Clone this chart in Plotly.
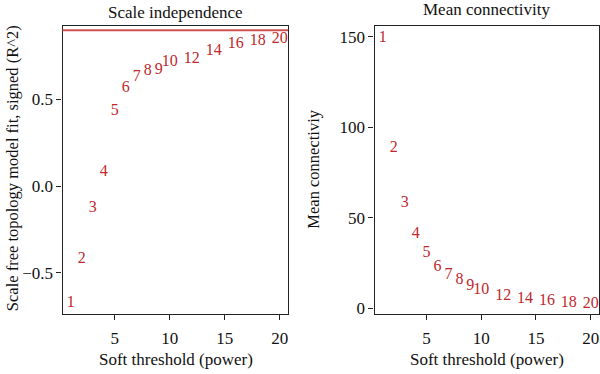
import plotly.graph_objects as go

powers = [1, 2, 3, 4, 5, 6, 7, 8, 9, 10, 12, 14, 16, 18, 20]
sft_signed_r2 = [-0.673, -0.42, -0.129, 0.083, 0.433, 0.567, 0.63, 0.667, 0.67,
                 0.717, 0.736, 0.78, 0.818, 0.839, 0.849]
mean_k = [149.5, 88.3, 58.0, 40.7, 30.3, 22.8, 18.4, 15.5, 11.9, 9.7, 6.6, 5.1,
          3.7, 2.9, 2.4]
r2_cutoff = 0.90
x_ticks = [5, 10, 15, 20]
y1_ticks = [-0.5, 0.0, 0.5]
y1_ticklabels = ["\u22120.5", "0.0", "0.5"]
y2_ticks = [0, 50, 100, 150]

FONT = "Liberation Serif"
RED = "#c0272d"
W, H = 600, 374

def px(x):
    return x / W

def py(y):
    return 1 - y / H

fig = go.Figure()
labels = [str(p) for p in powers]
fig.add_trace(go.Scatter(x=powers, y=sft_signed_r2, mode="text", text=labels,
                         textfont=dict(family=FONT, size=16, color=RED),
                         xaxis="x", yaxis="y", showlegend=False, hoverinfo="skip"))
fig.add_trace(go.Scatter(x=powers, y=mean_k, mode="text", text=labels,
                         textfont=dict(family=FONT, size=16, color=RED),
                         xaxis="x2", yaxis="y2", showlegend=False, hoverinfo="skip"))

ydom = [py(317), py(26.5)]
axis_common = dict(showline=True, linecolor="#222", linewidth=1.2, mirror=True,
                   ticks="outside", ticklen=5, tickcolor="#222", showgrid=False,
                   zeroline=False, tickfont=dict(family=FONT, size=17, color="#111"))

fig.update_layout(
    width=W, height=H, margin=dict(l=0, r=0, t=0, b=0),
    paper_bgcolor="white", plot_bgcolor="white",
    xaxis=dict(domain=[px(62.5), px(288)], range=[0.24, 20.76], tickvals=x_ticks,
               anchor="y", ticklabelstandoff=4, **axis_common),
    yaxis=dict(domain=ydom, range=[-0.736, 0.923], tickvals=y1_ticks,
               ticktext=y1_ticklabels, anchor="x", **axis_common),
    xaxis2=dict(domain=[px(374.5), px(599)], range=[0.24, 20.76], tickvals=x_ticks,
                anchor="y2", ticklabelstandoff=4, **axis_common),
    yaxis2=dict(domain=ydom, range=[-3.1, 155.9], tickvals=y2_ticks, anchor="x2",
                **axis_common),
)

fig.add_shape(type="line", xref="x domain", yref="y", x0=0, x1=1, y0=r2_cutoff,
              y1=r2_cutoff, line=dict(color="#d05050", width=2))

def ann(text, x, y, angle=0, size=17):
    fig.add_annotation(text=text, x=px(x), y=py(y), xref="paper", yref="paper",
                       showarrow=False, textangle=angle, xanchor="center",
                       yanchor="middle", font=dict(family=FONT, size=size, color="#111"))

ann("Scale independence", 175.5, 13)
ann("Mean connectivity", 486.5, 10)
ann("Soft threshold (power)", 175.5, 363.5)
ann("Soft threshold (power)", 486.5, 363.5)
ann("Scale free topology model fit, signed (R^2)", 12, 170, -90, 16.5)
ann("Mean connectiviy", 314, 171.5, -90, 16.5)

fig.write_html("out.html")
